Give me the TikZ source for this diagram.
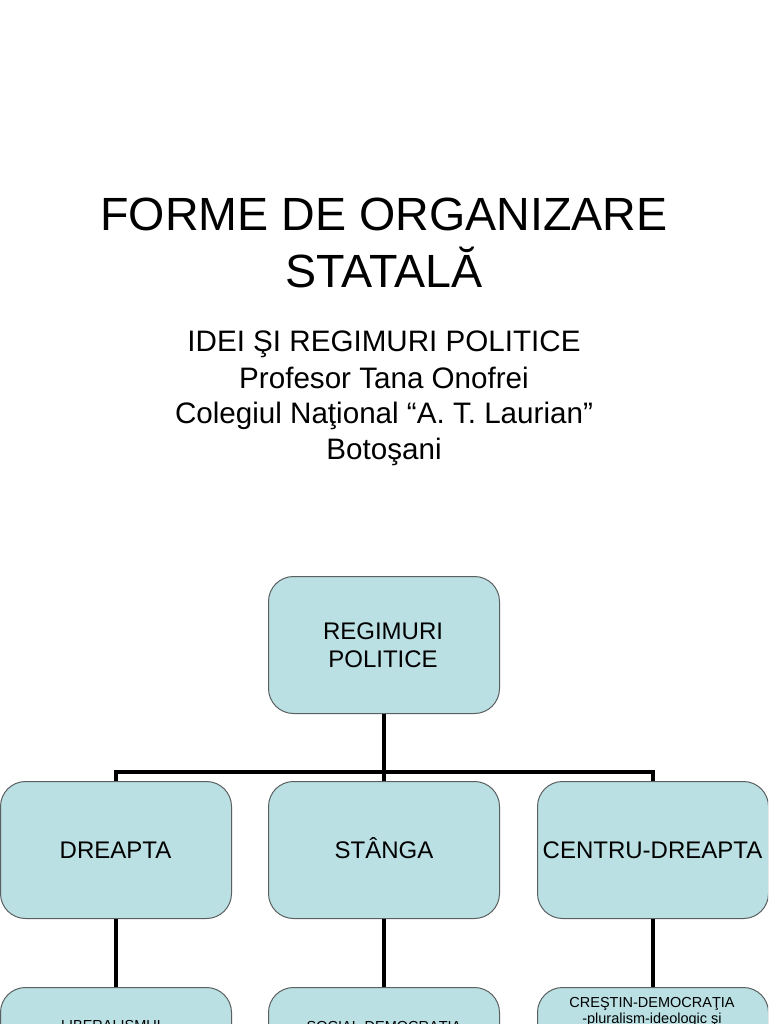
\documentclass[tikz,border=0pt]{standalone}
\usepackage{fontspec}
\setmainfont{Liberation Sans}
\definecolor{boxfill}{HTML}{BAE0E3}
\definecolor{boxline}{HTML}{5A5F60}
\begin{document}
\begin{tikzpicture}[x=1pt,y=-1pt,
  orgbox/.style={draw=boxline, line width=1pt, fill=boxfill, rounded corners=25pt,
    minimum width=231pt, minimum height=137pt, inner sep=0pt, anchor=north west},
  conn/.style={line width=4pt, black},
  boxtext/.style={font=\fontsize{24}{28}\selectfont, align=center, inner sep=0pt},
  midtext/.style={font=\fontsize{24}{28}\selectfont, anchor=base, inner sep=0pt},
  smalltext/.style={font=\fontsize{14.5}{17}\selectfont, anchor=base, inner sep=0pt},
  titletext/.style={font=\fontsize{46.6}{57}\selectfont, anchor=base, inner sep=0pt},
  subtext/.style={font=\fontsize{29.6}{36}\selectfont, anchor=base, inner sep=0pt}]
\useasboundingbox (0,0) rectangle (768,1024);
\clip (0,0) rectangle (768,1024);
\fill[white] (0,0) rectangle (768,1024);

% title
\node[titletext] (t1) at (384,230) {FORME DE ORGANIZARE};
\node[titletext] (t2) at (384,287) {STATALĂ};
\node[subtext] (s1) at (384,351) {IDEI ŞI REGIMURI POLITICE};
\node[subtext] (s2) at (384,388) {Profesor Tana Onofrei};
\node[subtext] (s3) at (384,423) {Colegiul Naţional “A. T. Laurian”};
\node[subtext] (s4) at (384,459) {Botoşani};

% boxes
\node[orgbox] (root) at (268,576) {};
\node[boxtext] (roottext) at (383,645) {REGIMURI\\ POLITICE};

\node[orgbox] (l2a) at (0,781) {};
\node[orgbox] (l2b) at (268,781) {};
\node[orgbox] (l2c) at (537,781) {};
\node[midtext] (l2at) at (115.5,858.6) {DREAPTA};
\node[midtext] (l2bt) at (384,858.6) {STÂNGA};
\node[midtext] (l2ct) at (652.5,858.6) {CENTRU-DREAPTA};

\node[orgbox] (l3a) at (0,987) {};
\node[orgbox] (l3b) at (268,987) {};
\node[orgbox] (l3c) at (537,987) {};
\node[smalltext] (l3at) at (113,1030) {LIBERALISMUL};
\node[smalltext] (l3bt) at (384,1031) {SOCIAL-DEMOCRAŢIA};
\node[smalltext] (l3ct1) at (652,1007) {CREŞTIN-DEMOCRAŢIA};
\node[smalltext] (l3ct2) at (652,1023) {-pluralism-ideologic şi};

% connectors
\coordinate (hub) at (384,772);
\draw[conn] (root.south) -- (hub);
\draw[conn] (l2a.north) |- (hub) -| (l2c.north);
\draw[conn] (hub) -- (l2b.north);
\draw[conn] (l2a.south) -- (l3a.north);
\draw[conn] (l2b.south) -- (l3b.north);
\draw[conn] (l2c.south) -- (l3c.north);
\end{tikzpicture}
\end{document}
